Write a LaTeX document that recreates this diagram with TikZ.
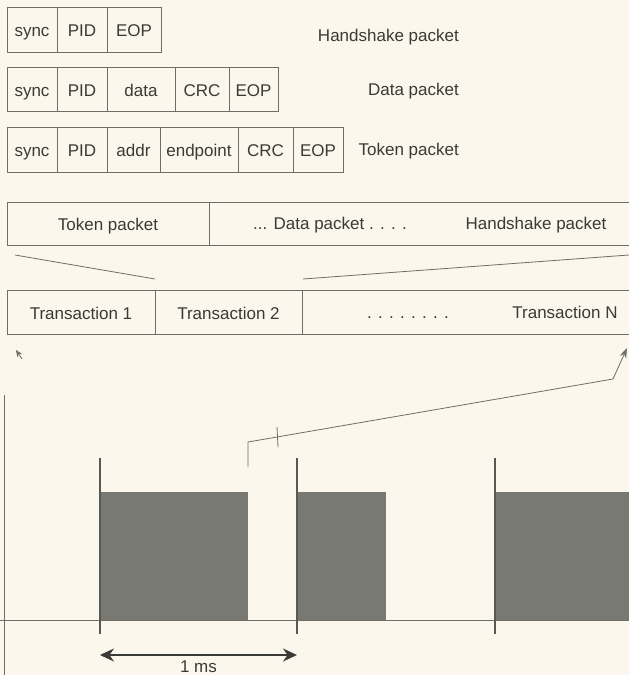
\documentclass[tikz,border=0pt]{standalone}
\usepackage{fontspec}
\setmainfont{Liberation Sans}
\usepackage{tikz}
\usetikzlibrary{arrows.meta, positioning}
\definecolor{paper}{HTML}{FBF7EC}
\definecolor{ink}{HTML}{3A3A36}
\definecolor{linegray}{HTML}{6E6E66}
\definecolor{pulsefill}{HTML}{797974}
\tikzset{
    fieldbox/.style={
        rectangle, draw=linegray, line width=0.8pt,
        minimum width=#1, minimum height=45pt,
        inner sep=0pt, outer sep=0pt, anchor=west,
        text height=14.5pt, text depth=0pt,
        font=\fontsize{17}{20}\selectfont, text=ink
    },
    fieldbox/.default=50pt,
    barbox/.style={
        rectangle, draw=linegray, line width=0.8pt,
        minimum width=#1, minimum height=44pt,
        inner sep=0pt, outer sep=0pt, anchor=west,
        text height=14.5pt, text depth=0pt,
        font=\fontsize{17}{20}\selectfont, text=ink
    },
    barbox/.default=148pt,
    pktlabel/.style={
        font=\fontsize{17}{20}\selectfont, text=ink, inner sep=0pt,
        text height=12.5pt, text depth=3.5pt
    },
    zoomline/.style={
        line width=0.8pt, color=linegray
    },
    pointer/.style={
        -{Stealth[length=10pt, width=7pt]}, line width=0.8pt, color=linegray
    },
    pulse/.style={
        rectangle, fill=pulsefill, draw=none, anchor=south west,
        minimum height=128pt, inner sep=0pt, outer sep=0pt
    },
    tickline/.style={
        line width=1.1pt, color=ink!85
    },
    spanarrow/.style={
        {Stealth[length=14pt, width=13pt]}-{Stealth[length=14pt, width=13pt]},
        line width=1.5pt, color=ink
    },
}
\begin{document}
\begin{tikzpicture}[x=1pt, y=-1pt, node distance=0pt]

    \clip (0,0) rectangle (629,675);
    \fill[paper] (0,0) rectangle (629,675);

    % Handshake packet
    \node[fieldbox, anchor=north west] (hsync) at (7,7) {sync};
    \node[fieldbox, right=of hsync] (hpid) {PID};
    \node[fieldbox=54pt, right=of hpid] (heop) {EOP};
    \node[pktlabel, anchor=east] (hlab) at (459,37) {Handshake packet};

    % Data packet
    \node[fieldbox, minimum height=44pt, anchor=north west] (dsync) at (7,67) {sync};
    \node[fieldbox, minimum height=44pt, right=of dsync] (dpid) {PID};
    \node[fieldbox=68pt, minimum height=44pt, right=of dpid] (ddata) {data};
    \node[fieldbox=54pt, minimum height=44pt, right=of ddata] (dcrc) {CRC};
    \node[fieldbox=49pt, minimum height=44pt, right=of dcrc] (deop) {EOP};
    \node[pktlabel, anchor=east] (dlab) at (459,91) {Data packet};

    % Token packet
    \node[fieldbox, anchor=north west] (tsync) at (7,127) {sync};
    \node[fieldbox, right=of tsync] (tpid) {PID};
    \node[fieldbox=53pt, right=of tpid] (taddr) {addr};
    \node[fieldbox=78pt, right=of taddr] (tendp) {endpoint};
    \node[fieldbox=55pt, right=of tendp] (tcrc) {CRC};
    \node[fieldbox, right=of tcrc] (teop) {EOP};
    \node[pktlabel, anchor=east] (tlab) at (459,151) {Token packet};

    % One transaction
    \node[barbox=202pt, minimum height=43pt, anchor=north west] (tokpkt) at (7,202) {Token packet};
    \node[barbox=440pt, minimum height=43pt, right=of tokpkt] (restpkt) {};
    \node[pktlabel] (datlab) at (330,225) {... Data packet . . . .};
    \node[pktlabel] (hslab) at (536,225) {Handshake packet};

    % Frame of transactions
    \node[barbox, anchor=north west] (trans1) at (7,290) {Transaction 1};
    \node[barbox=147pt, right=of trans1] (trans2) {Transaction 2};
    \node[barbox=340pt, right=of trans2] (transn) {};
    \node[pktlabel] (dots) at (408,314) {. . . . . . . .};
    \node[pktlabel] (tnlab) at (565,314) {Transaction N};

    \coordinate (zl) at (155,279);
    \coordinate (zr) at (303,279);
    \coordinate (zlend) at (15,255);
    \coordinate (zrend) at (629,255);
    \draw[zoomline] (zl) -- (zlend);
    \draw[zoomline] (zr) -- (zrend);

    % Frames on the bus
    \draw[zoomline] (4,395) -- (4,675);
    \draw[zoomline] (0,620) -- (629,620);
    \node[pulse, minimum width=148pt] (p1) at (100,620) {};
    \node[pulse, minimum width=89pt] (p2) at (297,620) {};
    \node[pulse, minimum width=150pt] (p3) at (495,620) {};
    \foreach \x in {100, 297, 495}
        \draw[tickline] (\x,458) -- (\x,634);

    \coordinate (fstart) at (248,467);
    \coordinate (tnend) at (627,348);
    \draw[pointer] (fstart) -- (248,442) -- (613,379) -- (tnend);
    \draw[zoomline] (277,427) -- (278,447);

    \coordinate (t1tail) at (22,359);
    \coordinate (t1end) at (16,350);
    \draw[pointer, -{Stealth[length=7pt, width=6pt]}] (t1tail) -- (t1end);

    \draw[spanarrow] (p1.south west |- 0,655) -- node[pktlabel, below=4pt] (ms) {1 ms} (p2.south west |- 0,655);

\end{tikzpicture}
\end{document}
